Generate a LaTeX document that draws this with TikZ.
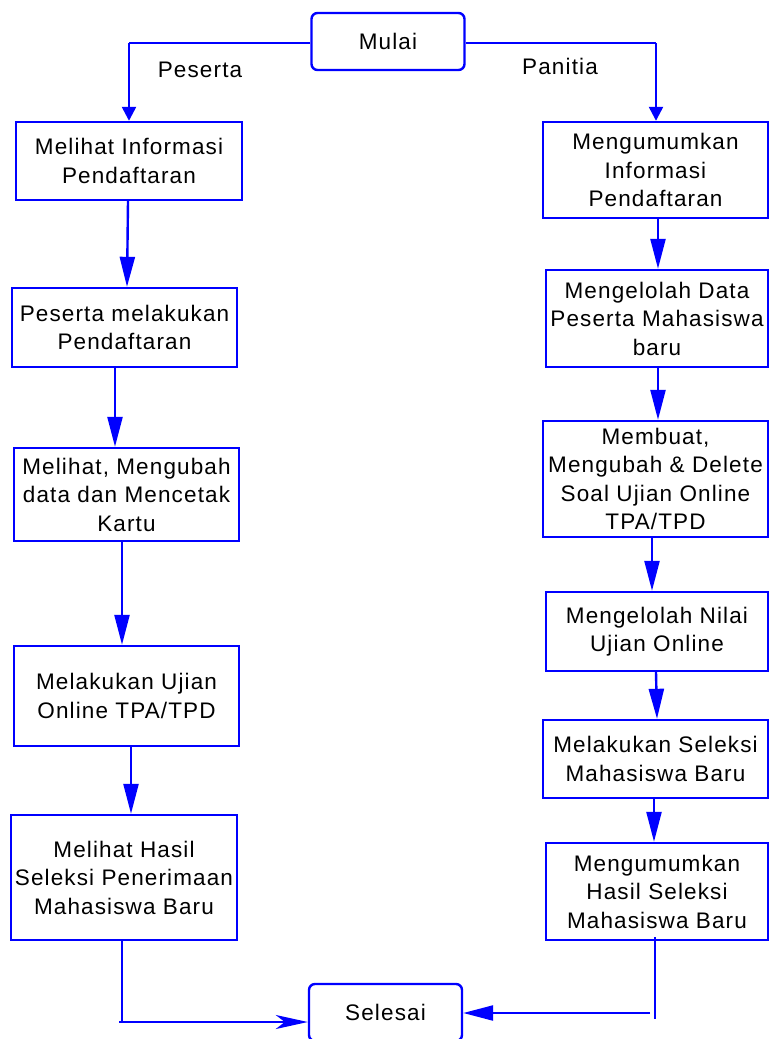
\documentclass[tikz,border=0pt]{standalone}
\usepackage{fontspec}
\setmainfont{Liberation Sans}[LetterSpace=5]
\usetikzlibrary{arrows.meta}
\definecolor{fblue}{RGB}{0,0,255}
\tikzset{
  box/.style={draw=fblue, line width=2.4pt, inner sep=0pt, align=center, font=\fontsize{22.5}{28.5}\selectfont},
  term/.style={box, rounded corners=6pt, minimum width=153pt, minimum height=57pt},
  conn/.style={draw=fblue, line width=2.4pt},
  arr/.style={conn, -{Triangle[length=30pt,width=15pt]}},
  arrshort/.style={conn, -{Triangle[length=14pt,width=14pt]}},
  arrstealth/.style={conn, -{Stealth[length=32pt,width=14pt,inset=9pt]}},
  lbl/.style={font=\fontsize{22.5}{28.5}\selectfont, inner sep=0pt}
}
\begin{document}
\begin{tikzpicture}[x=1pt,y=-1pt]
\useasboundingbox (0,0) rectangle (769,1039);
% terminals
\node[term] (mulai) at (388,41.5) {Mulai};
\node[term] (selesai) at (385.5,1012.5) {Selesai};
% left column
\node[box, minimum width=226pt, minimum height=78pt] (L1) at (129,161) {Melihat Informasi\\Pendaftaran};
\node[box, minimum width=225pt, minimum height=79pt] (L2) at (124.5,327.5) {Peserta melakukan\\Pendaftaran};
\node[box, minimum width=225pt, minimum height=93pt] (L3) at (126.5,494.5) {Melihat, Mengubah\\data dan Mencetak\\Kartu};
\node[box, minimum width=225pt, minimum height=100pt] (L4) at (126.5,696) {Melakukan Ujian\\Online TPA/TPD};
\node[box, minimum width=226pt, minimum height=125pt] (L5) at (124,877.5) {Melihat Hasil\\Seleksi Penerimaan\\Mahasiswa Baru};
% right column
\node[box, minimum width=225pt, minimum height=96pt] (R1) at (655.5,170) {Mengumumkan\\Informasi\\Pendaftaran};
\node[box, minimum width=222pt, minimum height=97pt] (R2) at (657,318.5) {Mengelolah Data\\Peserta Mahasiswa\\baru};
\node[box, minimum width=225pt, minimum height=116pt] (R3) at (655.5,479) {Membuat,\\Mengubah \& Delete\\Soal Ujian Online\\TPA/TPD};
\node[box, minimum width=222pt, minimum height=79pt] (R4) at (657,631.5) {Mengelolah Nilai\\Ujian Online};
\node[box, minimum width=225pt, minimum height=78pt] (R5) at (655.5,759) {Melakukan Seleksi\\Mahasiswa Baru};
\node[box, minimum width=222pt, minimum height=97pt] (R6) at (657,891.5) {Mengumumkan\\Hasil Seleksi\\Mahasiswa Baru};
% labels
\node[lbl] (peserta) at (200,70) {Peserta};
\node[lbl] (panitia) at (560,66) {Panitia};
% corner coordinates
\coordinate (cl) at (129,43);
\coordinate (cr) at (656,43);
\coordinate (l5a) at (122,940);
\coordinate (l5b) at (122,1022);
\coordinate (l5c) at (119,1022);
\coordinate (r6a) at (655,937);
\coordinate (r6b) at (655,1019);
\coordinate (r6c) at (650,1013);
% connectors
\draw[conn] ([yshift=-1.5pt]mulai.west) -- (cl);
\draw[arrshort] (cl) -- (L1.north);
\draw[conn] ([yshift=-1.5pt]mulai.east) -- (cr);
\draw[arrshort] (cr) -- ([xshift=0.5pt]R1.north);
\draw[arr] ([xshift=-1pt]L1.south) -- ([xshift=2.5pt]L2.north);
\draw[arr] ([xshift=-9.5pt]L2.south) -- ([xshift=-11.5pt]L3.north);
\draw[arr] ([xshift=-4.5pt]L3.south) -- ([xshift=-4.5pt]L4.north);
\draw[arr] ([xshift=4.5pt]L4.south) -- ([xshift=7pt]L5.north);
\draw[arr] ([xshift=2.5pt]R1.south) -- ([xshift=1pt]R2.north);
\draw[arr] ([xshift=1pt]R2.south) -- ([xshift=2.5pt]R3.north);
\draw[arr] ([xshift=-3.5pt]R3.south) -- ([xshift=-5pt]R4.north);
\draw[arr] ([xshift=-1pt]R4.south) -- ([xshift=1.5pt]R5.north);
\draw[arr] ([xshift=-1.5pt]R5.south) -- ([xshift=-3pt]R6.north);
\draw[conn] (l5a) -- (l5b);
\draw[arrstealth] (l5c) -- ([yshift=-9.5pt]selesai.west);
\draw[conn] (r6a) -- (r6b);
\draw[arr] (r6c) -- ([yshift=-0.5pt]selesai.east);
\end{tikzpicture}
\end{document}
